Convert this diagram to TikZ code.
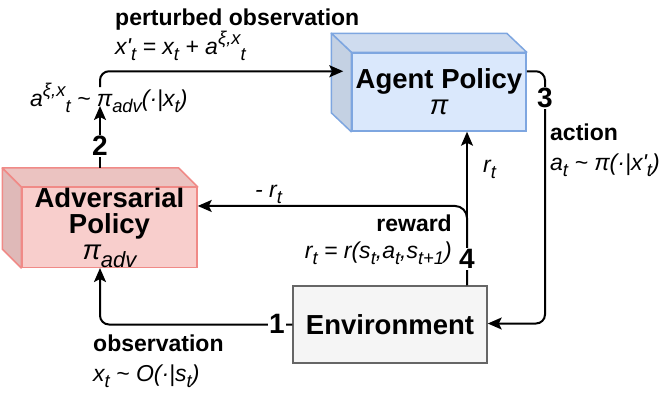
\documentclass[tikz,border=0pt]{standalone}
\usepackage{fontspec}
\usepackage{graphicx}
\setmainfont{Liberation Sans}[Ligatures=TeXOff]
\usetikzlibrary{arrows.meta,calc}
\newcommand\lo[1]{\raisebox{-0.27em}{\scalebox{0.8}{#1}}}
\newcommand\hi[1]{\raisebox{0.42em}{\scalebox{0.8}{#1}}}
\newcommand\tld{\textasciitilde}
\definecolor{agfill}{HTML}{DAE8FC}
\definecolor{agtop}{HTML}{CFDCEF}
\definecolor{agleft}{HTML}{C4D1E3}
\definecolor{agline}{HTML}{7EA6E0}
\definecolor{advfill}{HTML}{F8CECC}
\definecolor{advtop}{HTML}{EBC3C1}
\definecolor{advleft}{HTML}{DFB9B8}
\definecolor{advline}{HTML}{F08A87}
\definecolor{envfill}{HTML}{F5F5F5}
\definecolor{envline}{HTML}{666666}
\begin{document}
\begin{tikzpicture}[x=1pt,y=-1pt,
  face/.style={draw, line width=1.5pt, inner sep=0pt, align=center,
    font=\fontsize{27.5}{26}\selectfont\bfseries},
  side/.style={line width=1.5pt, line join=round},
  conn/.style={line width=2pt, draw=black, rounded corners=9pt},
  arr/.style={conn, -{Stealth[length=14pt,width=12pt,inset=3pt]}},
  num/.style={fill=white, inner sep=1.5pt, font=\fontsize{28}{28}\selectfont\bfseries},
  lbl/.style={inner sep=0pt, font=\fontsize{23}{26}\selectfont\bfseries},
  mth/.style={inner sep=0pt, font=\fontsize{23}{26}\selectfont\itshape}]
\useasboundingbox (0,0) rectangle (664,400);

% boxes
\node[face, fill=agfill, draw=agline, minimum width=174pt, minimum height=78pt] (agent) at (439,92)
  {Agent Policy\\{\normalfont\itshape π}};
\filldraw[side, fill=agtop, draw=agline] (agent.north west) -- ++(-20,-19) -- ([shift={(-20,-19)}]agent.north east) -- (agent.north east) -- cycle;
\filldraw[side, fill=agleft, draw=agline] (agent.north west) -- ++(-20,-19) -- ([shift={(-20,-19)}]agent.south west) -- (agent.south west) -- cycle;

\node[face, fill=advfill, draw=advline, minimum width=175pt, minimum height=79pt] (adv) at (109.5,227.5)
  {Adversarial\\Policy\\{\normalfont\itshape π\lo{adv}}};
\filldraw[side, fill=advtop, draw=advline] (adv.north west) -- ++(-19,-19) -- ([shift={(-19,-19)}]adv.north east) -- (adv.north east) -- cycle;
\filldraw[side, fill=advleft, draw=advline] (adv.north west) -- ++(-19,-19) -- ([shift={(-19,-19)}]adv.south west) -- (adv.south west) -- cycle;

\node[face, fill=envfill, draw=envline, minimum width=194pt, minimum height=77pt] (env) at (390,324.5) {Environment};

% labels
\node[lbl, anchor=base west] (lpo) at (115,25) {perturbed observation};
\node[mth, anchor=base west] (lpx) at (115,54) {x'\lo{t} = x\lo{t} + a\hi{ξ,x}\lo{t}};
\node[mth, anchor=base west] (lab2) at (30,106) {a\hi{ξ,x}\lo{t} \tld\ π\lo{adv}(·|x\lo{t})};
\node[lbl, anchor=base west] (lact) at (550,140) {action};
\node[mth, anchor=base west] (lacx) at (550,170) {a\lo{t} \tld\ π(·|x'\lo{t})};
\node[mth, anchor=base west] (lrt) at (483,172) {r\lo{t}};
\node[mth, anchor=base west] (lmr) at (255,197) {- r\lo{t}};
\node[lbl, anchor=base east] (lrw) at (452,231) {reward};
\node[mth, anchor=base east] (lrf) at (452,258) {r\lo{t} = r(s\lo{t},a\lo{t},s\lo{t+1})};
\node[lbl, anchor=base west] (lob) at (93,351) {observation};
\node[mth, anchor=base west] (lox) at (93,381) {x\lo{t} \tld\ O(·|s\lo{t})};

% coordinates
\coordinate (advS) at ($(adv.south)+(-9.5,0)$);
\coordinate (advN) at ($(adv.north)+(-9.5,-19)$);
\coordinate (p2) at ($(advN |- lab2.base)+(0,-19)$);
\coordinate (agin) at ($(agent.north west)+(-8,19)$);
\coordinate (agout) at ($(agent.north east)+(0,19)$);
\coordinate (c3) at (545,0);
\coordinate (envin) at ($(env.east)+(0,-1)$);
\coordinate (rx) at (467,0);
\coordinate (advin) at ($(adv.north east)+(0,19)$);

% connectors
\draw[arr] (env.west) -| (advS);
\draw[arr] (advN) -- (advN |- lab2.base);
\draw[arr] (p2) |- (agin);
\draw[arr] (agout) -| (c3 |- envin) -- (envin);
\draw[arr] (env.north -| rx) -- (agent.south -| rx);
\draw[arr, rounded corners=12pt] (env.north -| rx) |- (advin);

% step numbers
\node[num] (n1) at (277,324) {1};
\node[num] (n2) at (100,146) {2};
\node[num] (n3) at (545,98) {3};
\node[num] (n4) at (467,259) {4};
\end{tikzpicture}
\end{document}
